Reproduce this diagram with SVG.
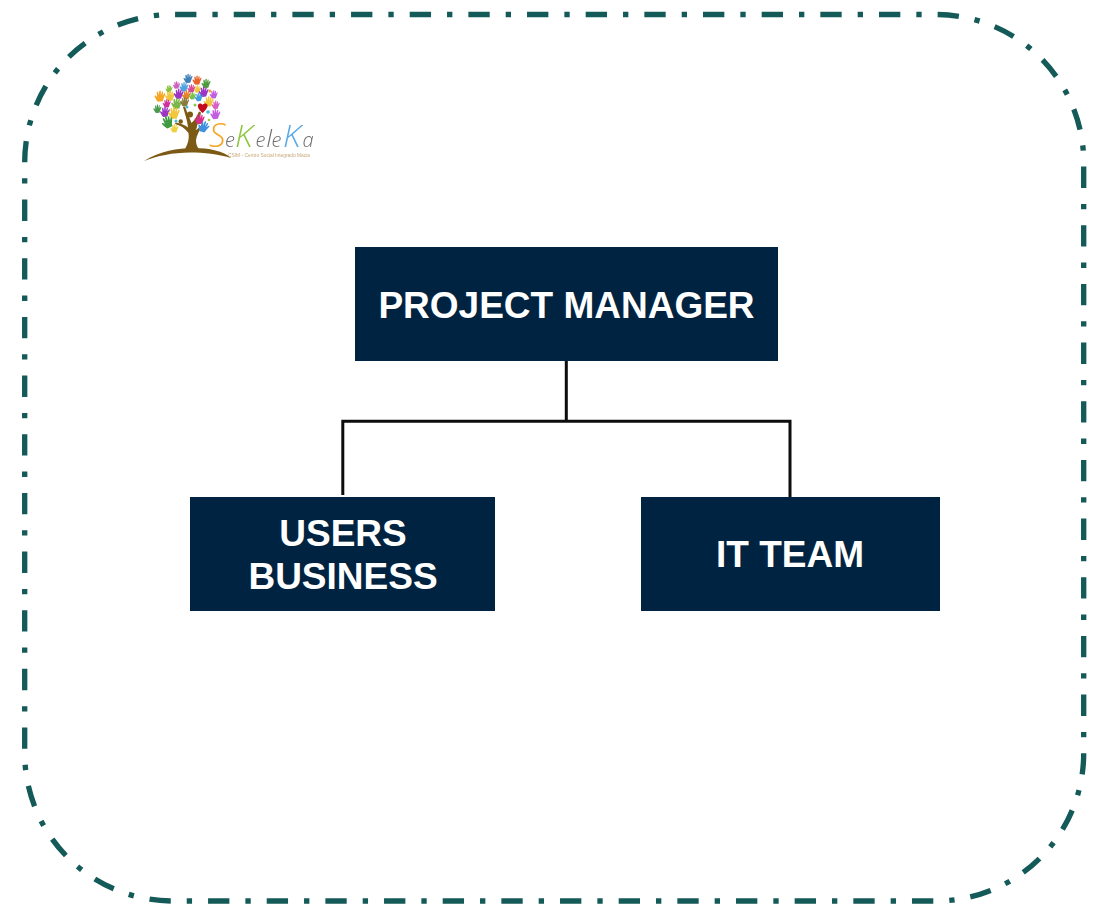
<svg xmlns="http://www.w3.org/2000/svg" width="1102" height="909" viewBox="0 0 1102 909">
<style>
.box{fill:#002341}
.lbl{font-family:"Liberation Sans",Arial,sans-serif;font-weight:700;font-size:37px;fill:#fff;text-anchor:middle}
.conn{fill:none;stroke:#0d0d0d;stroke-width:3}
.frame{fill:none;stroke:#135a58;stroke-width:5.33;stroke-dasharray:21.33 16 5.33 16}
.lg{font-family:"Open Sans","Liberation Sans",sans-serif;font-style:italic;font-weight:300}
</style>
<defs>
<path id="hand" d="M-2.8 4C-3.8 2-5 .6-4.8-.2-4.3-.7-3.4-.1-2.6.9L-3-3C-2.9-3.8-1.9-3.8-1.7-3L-1.1-.6-.9-4.1C-.7-4.8.3-4.8.4-4.1L.5-.6 1.3-3.4C1.6-4.1 2.5-3.9 2.4-3.1L1.9-.2 3.2-2C3.8-2.6 4.4-2.1 4.1-1.4L2.6 2.4 2 4.4-1.9 4.8Z"/>
<filter id="soft" x="-5%" y="-5%" width="110%" height="110%"><feGaussianBlur stdDeviation="0.3"/></filter>
</defs>
<path id="frame" class="frame" d="M24.7 162.3A147.8 147.8 0 0 1 172.5 14.5H936A147.8 147.8 0 0 1 1083.7 162.3V753.2A147.8 147.8 0 0 1 936 901H172.5A147.8 147.8 0 0 1 24.7 753.2Z"/>
<g id="logo" filter="url(#soft)">
<path fill="#7c5a12" d="M144 161C160 151 178 148 193 148C209 148 224 151 231 158C217 154 205 152.500 190 152.500C173 152.500 157 156 144 161Z"/>
<path fill="#7c5a12" d="M185 149C188 144 189.500 138 188.500 133C185 128 180 125 175 124L175.500 122.500C181 123.500 185 125 188 127.500C187.500 121 185 114 183 107L185 106.500C187 112 189.500 118 191.500 123C195 120 197 116 199 111.500L201 112.500C199.500 119 197.500 125 195.500 130C197 129.500 199 128 201 125.500L202 126.500C199.500 131 196.500 135 196 140C196 144 197 147 199 149Z"/>
<circle cx="190" cy="114.500" r="3" fill="#7c5a12"/><circle cx="180.700" cy="121.500" r="2.200" fill="#7c5a12"/><circle cx="194.500" cy="127.500" r="2.200" fill="#7c5a12"/>
<use href="#hand" transform="translate(188.300 78.300)" fill="#3f7fb5"/>
<use href="#hand" transform="translate(197.300 80)" fill="#e8632a"/>
<use href="#hand" transform="translate(206.300 83.300)" fill="#4f9a3c"/>
<use href="#hand" transform="translate(176.700 85) scale(.8)" fill="#cf5fc0"/>
<use href="#hand" transform="translate(184.300 86.700)" fill="#4fa3e0"/>
<use href="#hand" transform="translate(191.700 88.300) scale(.9)" fill="#d8489a"/>
<use href="#hand" transform="translate(197.700 89) scale(.8)" fill="#f0c63c"/>
<use href="#hand" transform="translate(169.300 88.700) scale(.8)" fill="#84c341"/>
<use href="#hand" transform="translate(204 91.700) scale(1.100)" fill="#9a35c4"/>
<use href="#hand" transform="translate(214 94.300) scale(.9)" fill="#c05fe0"/>
<circle cx="210" cy="91" r="1.500" fill="#f0a030"/>
<use href="#hand" transform="translate(160.300 96) scale(1.200)" fill="#f5a623"/>
<use href="#hand" transform="translate(170.300 95.700) scale(1.100)" fill="#f0c63c"/>
<use href="#hand" transform="translate(179 93.700) scale(1.100)" fill="#9a35c4"/>
<use href="#hand" transform="translate(186.700 94.700)" fill="#e8832a"/>
<use href="#hand" transform="translate(192.700 95.700) scale(.8)" fill="#78c048"/>
<use href="#hand" transform="translate(199 97) scale(.9)" fill="#3fa0e0"/>
<use href="#hand" transform="translate(209 101.300) scale(1.100)" fill="#f0c63c"/>
<use href="#hand" transform="translate(216 104.700) scale(.9)" fill="#d860c0"/>
<use href="#hand" transform="translate(167 103.300) scale(.9)" fill="#d02f9a"/>
<use href="#hand" transform="translate(177 103.300) scale(1.200)" fill="#7ab648"/>
<use href="#hand" transform="translate(185 101.700)" fill="#8a7a3c"/>
<use href="#hand" transform="translate(157.700 108.700) scale(.9)" fill="#4a9a4a"/>
<use href="#hand" transform="translate(165.300 111.700) scale(1.100)" fill="#9a35c4"/>
<use href="#hand" transform="translate(174.300 112.700) scale(1.300)" fill="#f0c63c"/>
<use href="#hand" transform="translate(215.700 114) scale(1.100)" fill="#c05fe0"/>
<use href="#hand" transform="translate(200 119) scale(1.100)" fill="#d82f8a"/>
<use href="#hand" transform="translate(167.700 121.700) scale(1.300) rotate(-20)" fill="#3f9a3f"/>
<use href="#hand" transform="translate(174.700 128.300) scale(.9)" fill="#f0d040"/>
<use href="#hand" transform="translate(204 126.700) scale(1.200) rotate(20)" fill="#3f90e0"/>
<circle cx="187" cy="107" r="1.500" fill="#3fc0d8"/><circle cx="208" cy="112" r="1.800" fill="#3fc0d8"/><circle cx="209" cy="120" r="1.300" fill="#9ac848"/><circle cx="195" cy="105" r="1.500" fill="#8ac848"/><circle cx="176" cy="121" r="1.500" fill="#3fc0d8"/>
<path fill="#c4101c" d="M202.500 113C198 109 197.500 106 198 105C199 103 201.500 103 202.500 105C203.500 103 207 103 207.500 105C208 107 206 110 202.500 113Z"/>
<text class="lg" y="146.500"><tspan x="209" font-size="33" fill="#f5a623">S</tspan><tspan x="225" font-size="20" fill="#6b6b6b">e</tspan><tspan x="235" font-size="32" fill="#8cc63f">K</tspan><tspan x="255.500" font-size="20" fill="#6b6b6b">e</tspan><tspan x="266.500" font-size="24" fill="#6b6b6b">l</tspan><tspan x="271.500" font-size="20" fill="#6b6b6b">e</tspan><tspan x="283" font-size="32" fill="#5aa9e6">K</tspan><tspan x="302.500" font-size="20" fill="#6b6b6b">a</tspan></text>
<text x="228" y="156.500" font-family="Liberation Sans,Arial,sans-serif" font-size="5.500" fill="#c8a878" textLength="82" lengthAdjust="spacingAndGlyphs">CSIM - Centro Social Integrado Macia</text>
</g>
<g id="connectors">
<path class="conn" d="M566.300 361V421.300M341.300 421.300H791.500M342.800 421.300V495M790 421.300V497"/>
</g>
<g id="node-pm"><rect class="box" x="355" y="247" width="423" height="114"/><text class="lbl" x="566.500" y="318">PROJECT MANAGER</text></g>
<g id="node-users"><rect class="box" x="190" y="497" width="305" height="114"/><text class="lbl" x="343" y="546">USERS</text><text class="lbl" x="343" y="589">BUSINESS</text></g>
<g id="node-it"><rect class="box" x="641" y="497" width="299" height="114"/><text class="lbl" x="790" y="567">IT TEAM</text></g>
</svg>
